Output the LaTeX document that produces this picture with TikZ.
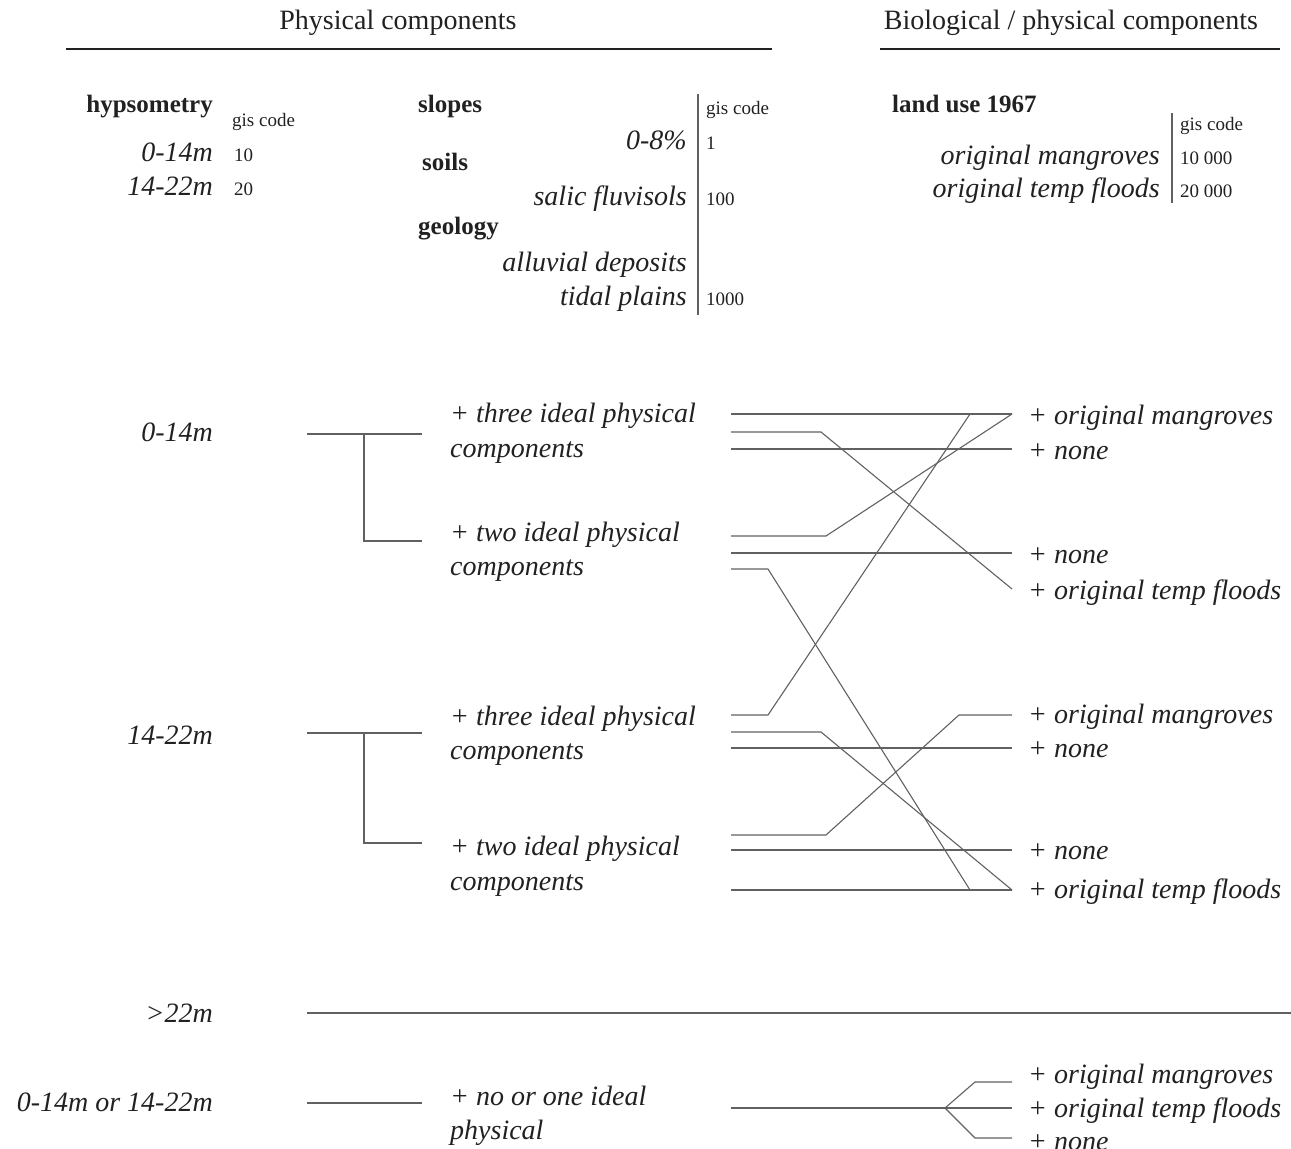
\documentclass[tikz,border=0pt]{standalone}
\usepackage{fontspec}
\setmainfont{Liberation Serif}

\definecolor{ink}{gray}{0.13}
\definecolor{wire}{gray}{0.38}

\tikzset{
  opt/.style={font=\fontsize{28}{34}\selectfont\itshape, text=ink, inner sep=0pt},
  optL/.style={opt, anchor=base west},
  optR/.style={opt, anchor=base east},
  hd/.style={font=\fontsize{25}{30}\selectfont\bfseries, text=ink, inner sep=0pt, anchor=base west},
  gis/.style={font=\fontsize{19}{22}\selectfont, text=ink, inner sep=0pt, anchor=base west},
  ttl/.style={font=\fontsize{28}{34}\selectfont, text=ink, inner sep=0pt, anchor=base},
  link/.style={draw=wire, line width=1.1pt},
  rule/.style={draw=ink, line width=1.6pt}
}

\begin{document}
\begin{tikzpicture}[x=1pt, y=-1pt]
  \useasboundingbox (0,0) rectangle (1291,1149);
  \clip (0,0) rectangle (1291,1149);

  %% titles
  \node[ttl] (t1) at (398,29) {Physical components};
  \node[ttl] (t2) at (1071,29) {Biological / physical components};
  \draw[rule] (66,49) -- (772,49);
  \draw[rule] (880,49) -- (1280,49);

  %% hypsometry
  \node[hd, anchor=base east] (hy) at (213,112) {hypsometry};
  \node[gis] (hyg) at (232,126) {gis code};
  \node[optR] (hy1) at (213,161) {0-14m};
  \node[gis] (hy1g) at (234,161) {10};
  \node[optR] (hy2) at (213,195) {14-22m};
  \node[gis] (hy2g) at (234,195) {20};

  %% slopes, soils, geology
  \node[hd] (sl) at (418,112) {slopes};
  \node[gis] (slg) at (706,114) {gis code};
  \node[optR] (sl1) at (687,149) {0-8\%};
  \node[gis] (sl1g) at (706,149) {1};
  \node[hd] (so) at (422,170) {soils};
  \node[optR] (so1) at (687,205) {salic fluvisols};
  \node[gis] (so1g) at (706,205) {100};
  \node[hd] (ge) at (418,234) {geology};
  \node[optR] (ge1) at (687,271) {alluvial deposits};
  \node[optR] (ge2) at (687,305) {tidal plains};
  \node[gis] (ge2g) at (706,305) {1000};
  \draw[link] (698,94) -- (698,315);

  %% land use
  \node[hd] (lu) at (892,112) {land use 1967};
  \node[gis] (lug) at (1180,130) {gis code};
  \node[optR] (lu1) at (1160,164) {original mangroves};
  \node[gis] (lu1g) at (1180,164) {10 000};
  \node[optR] (lu2) at (1160,197) {original temp floods};
  \node[gis] (lu2g) at (1180,197) {20 000};
  \draw[link] (1172,113) -- (1172,203);

  %% left side
  \node[optR] (lo) at (213,441) {0-14m};
  \node[optR] (hi) at (213,744) {14-22m};
  \node[optR] (top) at (213,1022) {>22m};
  \node[optR] (any) at (213,1111) {0-14m or 14-22m};

  \node[optL] (l3) at (450,422) {+ three ideal physical};
  \node[optL] (l3c) at (450,457) {components};
  \node[optL] (l2) at (450,541) {+ two ideal physical};
  \node[optL] (l2c) at (450,575) {components};
  \node[optL] (h3) at (450,725) {+ three ideal physical};
  \node[optL] (h3c) at (450,759) {components};
  \node[optL] (h2) at (450,855) {+ two ideal physical};
  \node[optL] (h2c) at (450,890) {components};
  \node[optL] (q) at (450,1105) {+ no or one ideal};
  \node[optL] (qc) at (450,1139) {physical};

  %% brackets
  \coordinate (blo) at (307,434);
  \coordinate (bhi) at (307,733);
  \draw[link] (blo) -- ++(115,0) (blo) ++(57,0) -- ++(0,107) -- ++(58,0);
  \draw[link] (bhi) -- ++(115,0) (bhi) ++(57,0) -- ++(0,110) -- ++(58,0);
  \draw[link] (307,1013) -- (1291,1013);
  \draw[link] (307,1103) -- (422,1103);

  %% right side
  \coordinate (m1) at (1012,414);
  \coordinate (n1) at (1012,449);
  \coordinate (n2) at (1012,553);
  \coordinate (f1) at (1012,589);
  \coordinate (m2) at (1012,715);
  \coordinate (n3) at (1012,748);
  \coordinate (n4) at (1012,850);
  \coordinate (f2) at (1012,890);
  \coordinate (m3) at (1012,1082);
  \coordinate (f3) at (1012,1108);
  \coordinate (n5) at (1012,1138);

  \node[optL] (lm1) at (1028,424) {+ original mangroves};
  \node[optL] (ln1) at (1028,459) {+ none};
  \node[optL] (ln2) at (1028,563) {+ none};
  \node[optL] (lf1) at (1028,599) {+ original temp floods};
  \node[optL] (lm2) at (1028,723) {+ original mangroves};
  \node[optL] (ln3) at (1028,757) {+ none};
  \node[optL] (ln4) at (1028,859) {+ none};
  \node[optL] (lf2) at (1028,898) {+ original temp floods};
  \node[optL] (lm3) at (1028,1083) {+ original mangroves};
  \node[optL] (lf3) at (1028,1117) {+ original temp floods};
  \node[optL] (ln5) at (1028,1150) {+ none};

  %% ports
  \coordinate (l3p1) at (731,414);
  \coordinate (l3p2) at (731,432);
  \coordinate (l3p3) at (731,449);
  \coordinate (l2p1) at (731,536);
  \coordinate (l2p2) at (731,553);
  \coordinate (l2p3) at (731,569);
  \coordinate (h3p1) at (731,715);
  \coordinate (h3p2) at (731,732);
  \coordinate (h3p3) at (731,748);
  \coordinate (h2p1) at (731,835);
  \coordinate (h2p2) at (731,850);
  \coordinate (h2p3) at (731,890);
  \coordinate (qp) at (731,1108);
  \coordinate (fk) at (945,1108);

  %% links 0-14m
  \draw[link] (l3p1) -- (m1);
  \draw[link] (l3p2) -- ++(90,0) -- (f1);
  \draw[link] (l3p3) -- (n1);
  \draw[link] (l2p1) -- ++(95,0) -- (m1);
  \draw[link] (l2p2) -- (n2);
  \draw[link] (l2p3) -- ++(37,0) -- ([xshift=-42pt]f2) -- (f2);

  %% links 14-22m
  \draw[link] (h3p1) -- ++(37,0) -- ([xshift=-42pt]m1) -- (m1);
  \draw[link] (h3p2) -- ++(90,0) -- (f2);
  \draw[link] (h3p3) -- (n3);
  \draw[link] (h2p1) -- ++(95,0) -- ([xshift=-53pt]m2) -- (m2);
  \draw[link] (h2p2) -- (n4);
  \draw[link] (h2p3) -- (f2);

  %% links no or one
  \draw[link] (qp) -- (fk) -- (f3);
  \draw[link] (fk) -- ([xshift=-37pt]m3) -- (m3);
  \draw[link] (fk) -- ([xshift=-37pt]n5) -- (n5);

\end{tikzpicture}
\end{document}
